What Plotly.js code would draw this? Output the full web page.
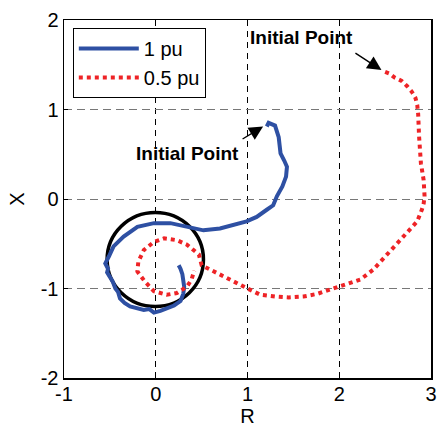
<!DOCTYPE html>
<html>
<head>
<meta charset="utf-8">
<script src="https://cdn.plot.ly/plotly-3.0.1.min.js"></script>
<style>html,body{margin:0;padding:0;background:#fff;}#chart{width:438px;height:427px;}</style>
</head>
<body>
<div id="chart"></div>
<script>
// 1 pu trajectory (R, X)
const pu1R = [1.21, 1.23, 1.30, 1.34, 1.35, 1.36, 1.40, 1.43, 1.42, 1.38, 1.32, 1.28, 1.21, 1.10, 0.99, 0.85, 0.70, 0.52, 0.34, 0.16, -0.02, -0.20, -0.35, -0.46, -0.51, -0.55, -0.52, -0.53, -0.50, -0.47, -0.44, -0.41, -0.39, -0.34, -0.28, -0.20, -0.13, -0.07, -0.02, 0.05, 0.12, 0.20, 0.27, 0.30, 0.31, 0.30, 0.29, 0.27, 0.25];
const pu1X = [0.81, 0.85, 0.82, 0.69, 0.60, 0.51, 0.43, 0.36, 0.25, 0.14, 0.03, -0.07, -0.12, -0.20, -0.25, -0.29, -0.33, -0.35, -0.31, -0.27, -0.27, -0.31, -0.42, -0.53, -0.64, -0.72, -0.78, -0.82, -0.87, -0.92, -1.00, -1.04, -1.11, -1.16, -1.20, -1.22, -1.24, -1.23, -1.27, -1.25, -1.22, -1.19, -1.14, -1.06, -0.98, -0.90, -0.84, -0.78, -0.74];

// 0.5 pu trajectory (R, X)
const pu05R = [2.50, 2.55, 2.60, 2.68, 2.74, 2.79, 2.83, 2.85, 2.86, 2.86, 2.87, 2.88, 2.89, 2.92, 2.93, 2.92, 2.90, 2.85, 2.78, 2.72, 2.61, 2.48, 2.37, 2.23, 2.05, 1.90, 1.76, 1.61, 1.45, 1.30, 1.14, 1.00, 0.81, 0.63, 0.50, 0.47, 0.41, 0.34, 0.23, 0.09, -0.02, -0.13, -0.19, -0.20, -0.12, -0.02, 0.12, 0.23, 0.34, 0.39, 0.42];
const pu05X = [1.42, 1.40, 1.36, 1.32, 1.26, 1.20, 1.13, 1.05, 0.95, 0.85, 0.70, 0.55, 0.40, 0.21, 0.03, -0.05, -0.12, -0.25, -0.33, -0.40, -0.51, -0.66, -0.79, -0.90, -0.96, -1.01, -1.06, -1.09, -1.10, -1.09, -1.07, -1.00, -0.90, -0.81, -0.74, -0.62, -0.57, -0.51, -0.46, -0.44, -0.48, -0.57, -0.70, -0.81, -0.92, -1.03, -1.07, -1.05, -0.98, -0.90, -0.80];

// Circle bounds (R range, X range)
const circleR = [-0.53, 0.52];
const circleX = [-1.20, -0.15];

// Tick labels
const xTickVals = [-1, 0, 1, 2, 3];
const xTickText = ["-1", "0", "1", "2", "3"];
const yTickVals = [-2, -1, 0, 1, 2];
const yTickText = ["-2", "-1", "0", "1", "2"];

const seriesNames = ["1 pu", "0.5 pu"];
const annoText = "Initial Point";

const FONT = "Liberation Sans, Arial, sans-serif";

const traces = [
  {x: pu1R, y: pu1X, mode: 'lines', name: seriesNames[0],
   line: {color: '#2e50a3', width: 4}},
  {x: pu05R, y: pu05X, mode: 'lines', name: seriesNames[1],
   line: {color: '#ee2326', width: 4, dash: 'dot'}}
];

const layout = {
  width: 438, height: 427,
  margin: {l: 64, r: 7, t: 20, b: 49},
  paper_bgcolor: '#fff', plot_bgcolor: '#fff',
  font: {family: FONT, size: 20, color: '#000'},
  showlegend: true,
  legend: {x: 0.024, y: 0.978, xanchor: 'left', yanchor: 'top',
    bordercolor: '#000', borderwidth: 1, bgcolor: '#fff', itemwidth: 60,
    tracegroupgap: 0,
    font: {family: FONT, size: 20, color: '#000'}},
  xaxis: {range: [-1, 3], tickvals: xTickVals, ticktext: xTickText,
    showgrid: true, gridcolor: '#000', gridwidth: 1, griddash: '6px,5px',
    zeroline: false, showline: true, mirror: true, linecolor: '#000', linewidth: 1.5,
    ticks: 'inside', ticklen: 4, tickcolor: '#000', ticklabelstandoff: -3,
    title: {text: 'R', font: {family: FONT, size: 20}, standoff: 7}},
  yaxis: {range: [-2, 2], tickvals: yTickVals, ticktext: yTickText,
    showgrid: true, gridcolor: '#777', gridwidth: 1, griddash: '8px,5px',
    zeroline: false, showline: true, mirror: true, linecolor: '#000', linewidth: 1.5,
    ticks: 'inside', ticklen: 4, tickcolor: '#000', ticklabelstandoff: 0,
    title: {text: 'X', font: {family: FONT, size: 20}, standoff: 10}},
  shapes: [
    {type: 'circle', xref: 'x', yref: 'y', x0: circleR[0], x1: circleR[1], y0: circleX[0], y1: circleX[1],
     line: {color: '#000', width: 3.5}, layer: 'between'}
  ],
  annotations: [
    {x: 0.35, y: 0.51, xref: 'x', yref: 'y', text: '<b>' + annoText + '</b>', showarrow: false,
     font: {family: FONT, size: 19, color: '#000'}},
    {x: 1.17, y: 0.81, ax: 0.93, ay: 0.66, xref: 'x', yref: 'y', axref: 'x', ayref: 'y',
     text: '', showarrow: true, arrowhead: 2, arrowsize: 2, arrowwidth: 1.4, arrowcolor: '#000'},
    {x: 1.59, y: 1.81, xref: 'x', yref: 'y', text: '<b>' + annoText + '</b>', showarrow: false,
     font: {family: FONT, size: 19, color: '#000'}},
    {x: 2.46, y: 1.44, ax: 2.16, ay: 1.64, xref: 'x', yref: 'y', axref: 'x', ayref: 'y',
     text: '', showarrow: true, arrowhead: 2, arrowsize: 2, arrowwidth: 1.4, arrowcolor: '#000'}
  ]
};

Plotly.newPlot('chart', traces, layout, {displayModeBar: false, staticPlot: true});
</script>
</body>
</html>
